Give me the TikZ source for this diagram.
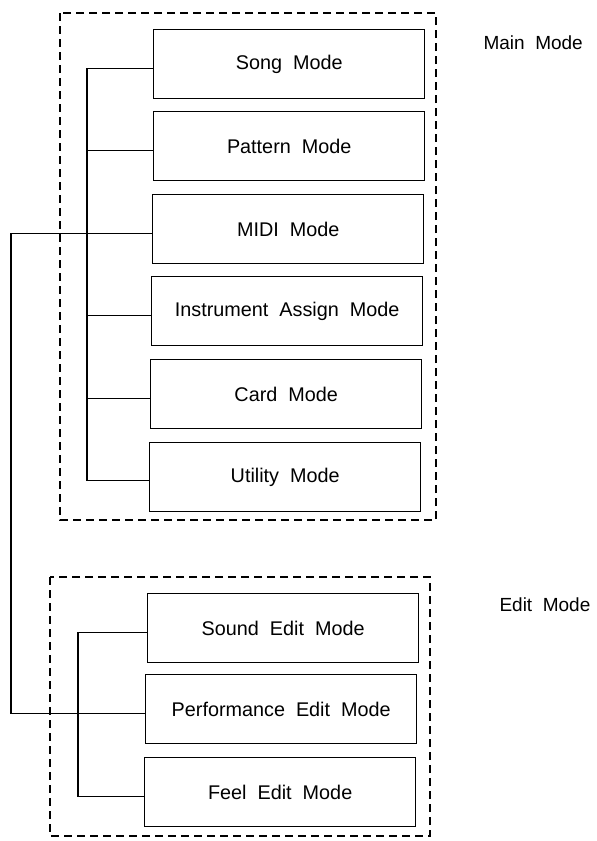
\documentclass[tikz,border=0pt]{standalone}
\usepackage{fontspec}
\setmainfont[WordSpace=2]{Liberation Sans}
\begin{document}
\begin{tikzpicture}[x=1pt,y=-1pt,
  lbl/.style={font=\fontsize{19}{22}\selectfont, text=black},
  modebox/.style={draw, line width=1.4pt, minimum width=271pt, minimum height=69pt, inner sep=0pt, anchor=north west, font=\fontsize{19.8}{23}\selectfont, text=black},
  grp/.style={draw, line width=1.2pt, dash pattern=on 8pt off 5pt},
  conn/.style={line width=1.3pt}]
\useasboundingbox (0,0) rectangle (597,841);
% group frames
\draw[grp] (60,13) rectangle (436,520);
\draw[grp] (50,577) rectangle (430,836);
% main mode boxes
\node[modebox] (song) at (153,29) {Song Mode};
\node[modebox] (pat)  at (153,111) {Pattern Mode};
\node[modebox] (midi) at (152,194) {MIDI Mode};
\node[modebox] (inst) at (151,276) {Instrument Assign Mode};
\node[modebox] (card) at (150,359) {Card Mode};
\node[modebox] (util) at (149,442) {Utility Mode};
% edit mode boxes
\node[modebox] (sound) at (147,593) {Sound Edit Mode};
\node[modebox] (perf)  at (145,674) {Performance Edit Mode};
\node[modebox] (feel)  at (144,757) {Feel Edit Mode};
% labels
\node[lbl, anchor=west] (mainlbl) at (480,43) {Main Mode};
\node[lbl, anchor=west] (editlbl) at (496,605) {Edit Mode};
% bus coordinates
\coordinate (mbx) at (87,0);
\coordinate (ebx) at (78,0);
\coordinate (ext) at (11,0);
% main bus
\draw[conn] ([yshift=-4pt]song.west) -- ([yshift=-4pt]song.west -| mbx) -- ([yshift=-3pt]util.west -| mbx) -- ([yshift=-3pt]util.west);
\foreach \n in {pat,inst,card}{
  \draw[conn] ([yshift=-4pt]\n.west) -- ([yshift=-4pt]\n.west -| mbx);
}
% MIDI to Performance Edit
\draw[conn] ([yshift=-4pt]midi.west) -- ([yshift=-4pt]midi.west -| ext) -- ([yshift=-4pt]perf.west -| ext) -- ([yshift=-4pt]perf.west);
% edit bus
\draw[conn] ([yshift=-4pt]sound.west) -- ([yshift=-4pt]sound.west -| ebx) -- ([yshift=-4pt]feel.west -| ebx) -- ([yshift=-4pt]feel.west);
\end{tikzpicture}
\end{document}
